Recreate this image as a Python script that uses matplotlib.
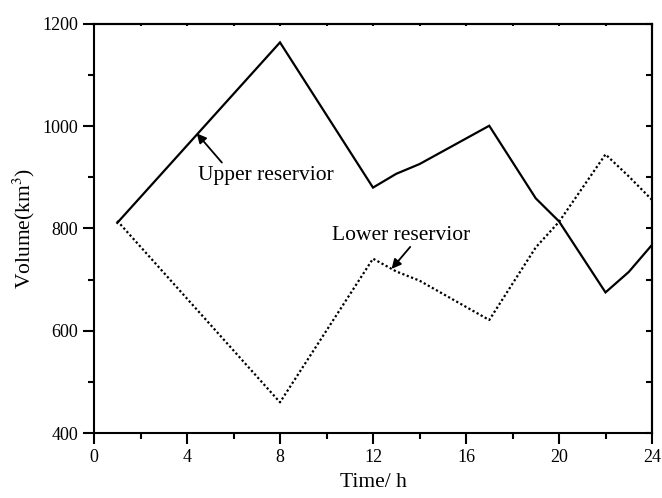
import matplotlib
matplotlib.use("Agg")
import matplotlib.pyplot as plt
from matplotlib.ticker import MultipleLocator

hours = [1, 8, 12, 13, 14, 17, 19, 20, 22, 23, 24]
upper = [811, 1164, 880, 907, 926, 1001, 859, 814, 675, 715, 768]
lower = [815, 460, 741, 716, 698, 621, 763, 813, 945, 902, 856]

plt.rcParams['font.family'] = ['Liberation Serif', 'DejaVu Serif']
plt.rcParams['mathtext.fontset'] = 'stix'

fig = plt.figure(figsize=(6.62, 4.98), dpi=100)
ax = fig.add_axes([94/662, 1-433/498, (652-94)/662, (433-24)/498])

ax.plot(hours, upper, color='black', lw=1.6, solid_joinstyle='miter')
ax.plot(hours, lower, color='black', lw=1.6, linestyle=(0, (1, 1.1)))

ax.set_xlim(0, 24)
ax.set_ylim(400, 1200)
ax.xaxis.set_major_locator(MultipleLocator(4))
ax.xaxis.set_minor_locator(MultipleLocator(2))
ax.yaxis.set_major_locator(MultipleLocator(200))
ax.yaxis.set_minor_locator(MultipleLocator(100))

for s in ax.spines.values():
    s.set_linewidth(1.5)

ax.tick_params(which='major', direction='out', length=8, width=1.5,
               labelsize=13, top=False, right=False)
ax.tick_params(which='minor', direction='out', length=4.5, width=1.5,
               top=False, right=False)

# inward ticks on right and top
ax2 = ax.secondary_yaxis('right')
ax2.yaxis.set_major_locator(MultipleLocator(100))
ax2.tick_params(direction='in', length=4, width=1.5, labelright=False)
ax3 = ax.secondary_xaxis('top')
ax3.xaxis.set_major_locator(MultipleLocator(2))
ax3.tick_params(direction='in', length=1.5, width=1.5, labeltop=False)
for a in (ax2, ax3):
    for s in a.spines.values():
        s.set_linewidth(1.5)

ax.set_xlabel('Time/ h', fontsize=15.5, labelpad=5)
ax.set_ylabel('Volume(km$^3$)', fontsize=15.5, labelpad=4)

arrow = dict(arrowstyle='-|>', color='black', lw=1.3,
             mutation_scale=14, shrinkA=0, shrinkB=0)
ax.annotate('', xy=(4.42, 986), xytext=(5.5, 929), arrowprops=arrow)
ax.text(7.4, 903, 'Upper reservior', fontsize=15.5, ha='center', va='center')

ax.annotate('', xy=(12.8, 721), xytext=(13.6, 764), arrowprops=arrow)
ax.text(13.2, 786, 'Lower reservior', fontsize=15.5, ha='center', va='center')

fig.savefig('out.png', dpi=100)
